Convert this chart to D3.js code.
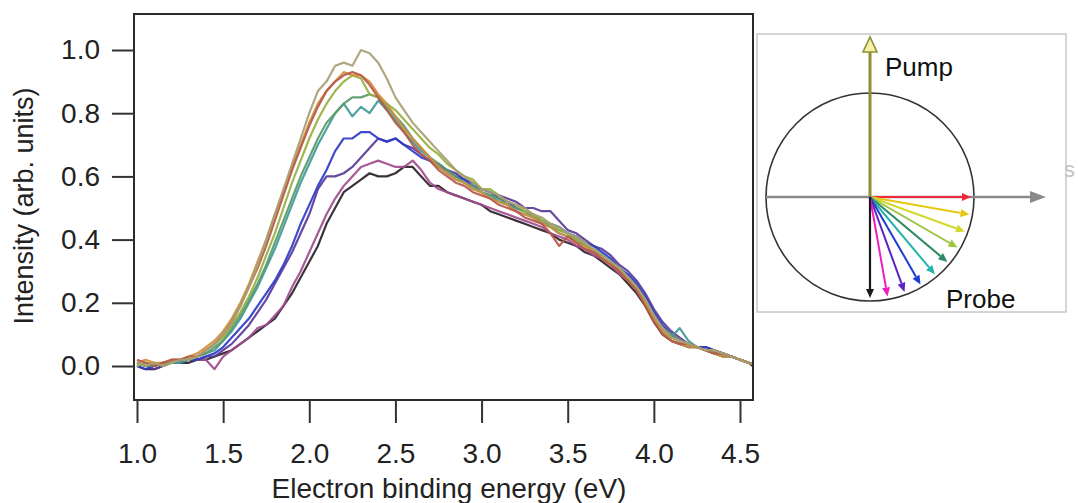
<!DOCTYPE html>
<html>
<head>
<meta charset="utf-8">
<script src="https://cdn.jsdelivr.net/npm/d3@7"></script>
<style>
  html, body { margin: 0; padding: 0; background: #fff; }
  svg { display: block; font-family: "Liberation Sans", Arial, sans-serif; }
</style>
</head>
<body>
<svg id="chart" width="1078" height="503"></svg>
<script>
// ---------------- DATA ----------------
const energies = [1.00,1.05,1.10,1.15,1.20,1.25,1.30,1.35,1.40,1.45,1.50,1.55,1.60,1.65,1.70,1.75,1.80,1.85,1.90,1.95,2.00,2.05,2.10,2.15,2.20,2.25,2.30,2.35,2.40,2.45,2.50,2.55,2.60,2.65,2.70,2.75,2.80,2.85,2.90,2.95,3.00,3.05,3.10,3.15,3.20,3.25,3.30,3.35,3.40,3.45,3.50,3.55,3.60,3.65,3.70,3.75,3.80,3.85,3.90,3.95,4.00,4.05,4.10,4.15,4.20,4.25,4.30,4.35,4.40,4.45,4.50,4.55,4.60];

const intensityKhaki = [
0.01,0.00,0.01,0.00,0.01,0.02,0.02,0.03,0.05,0.07,
0.10,0.14,0.19,0.25,0.32,0.40,0.48,0.56,0.64,0.72,
0.80,0.87,0.90,0.95,0.96,0.95,1.00,0.99,0.96,0.91,
0.85,0.81,0.77,0.74,0.71,0.68,0.65,0.62,0.60,0.58,
0.56,0.55,0.54,0.52,0.51,0.50,0.48,0.47,0.45,0.44,
0.42,0.41,0.39,0.37,0.35,0.33,0.31,0.28,0.25,0.21,
0.16,0.12,0.09,0.08,0.07,0.06,0.05,0.05,0.04,0.03,
0.02,0.01,0.00];
const intensityRed = [
0.02,0.01,0.00,0.01,0.02,0.02,0.03,0.03,0.05,0.07,
0.10,0.14,0.19,0.25,0.31,0.38,0.46,0.54,0.62,0.69,
0.76,0.82,0.87,0.90,0.92,0.93,0.92,0.89,0.85,0.81,
0.77,0.74,0.70,0.67,0.65,0.62,0.60,0.58,0.57,0.55,
0.54,0.53,0.51,0.50,0.49,0.47,0.46,0.45,0.42,0.38,
0.41,0.39,0.37,0.36,0.34,0.32,0.30,0.27,0.24,0.19,
0.14,0.10,0.08,0.07,0.07,0.06,0.05,0.04,0.04,0.03,
0.02,0.01,0.00];
const intensityOrange = [
0.01,0.02,0.01,0.01,0.02,0.02,0.03,0.04,0.06,0.08,
0.11,0.15,0.20,0.26,0.33,0.40,0.48,0.55,0.63,0.70,
0.77,0.83,0.87,0.90,0.93,0.92,0.92,0.90,0.86,0.83,
0.79,0.75,0.72,0.69,0.66,0.63,0.61,0.59,0.58,0.56,
0.55,0.53,0.52,0.51,0.49,0.48,0.47,0.45,0.44,0.42,
0.41,0.39,0.38,0.36,0.34,0.32,0.30,0.27,0.24,0.20,
0.15,0.11,0.08,0.07,0.06,0.06,0.05,0.04,0.03,0.03,
0.02,0.01,0.00];
const intensityYellowGreen = [
0.00,0.01,0.01,0.00,0.01,0.02,0.02,0.03,0.05,0.07,
0.09,0.13,0.17,0.22,0.28,0.35,0.42,0.50,0.58,0.65,
0.72,0.78,0.83,0.87,0.90,0.92,0.91,0.86,0.85,0.83,
0.81,0.78,0.75,0.72,0.69,0.67,0.64,0.62,0.60,0.59,
0.56,0.56,0.54,0.52,0.51,0.49,0.48,0.46,0.45,0.43,
0.42,0.40,0.39,0.37,0.35,0.33,0.31,0.28,0.25,0.21,
0.16,0.12,0.09,0.08,0.07,0.06,0.05,0.05,0.04,0.03,
0.02,0.01,0.00];
const intensityGreen = [
0.01,0.00,0.00,0.01,0.01,0.02,0.02,0.03,0.04,0.06,
0.08,0.12,0.16,0.21,0.26,0.32,0.39,0.46,0.53,0.60,
0.66,0.72,0.77,0.80,0.83,0.85,0.85,0.86,0.85,0.82,
0.79,0.76,0.72,0.69,0.66,0.64,0.62,0.60,0.58,0.57,
0.55,0.54,0.53,0.51,0.50,0.49,0.47,0.46,0.44,0.43,
0.42,0.40,0.38,0.37,0.35,0.33,0.31,0.28,0.25,0.21,
0.16,0.12,0.10,0.08,0.07,0.06,0.05,0.04,0.04,0.03,
0.02,0.01,0.00];
const intensityTeal = [
0.00,0.01,0.00,0.01,0.01,0.01,0.02,0.03,0.04,0.05,
0.08,0.11,0.15,0.20,0.25,0.31,0.37,0.44,0.51,0.58,
0.64,0.70,0.75,0.80,0.83,0.79,0.82,0.80,0.84,0.81,
0.78,0.74,0.71,0.68,0.66,0.63,0.61,0.59,0.58,0.56,
0.55,0.54,0.52,0.51,0.49,0.48,0.47,0.45,0.44,0.42,
0.41,0.40,0.38,0.36,0.35,0.33,0.30,0.28,0.24,0.20,
0.15,0.11,0.09,0.12,0.08,0.06,0.05,0.04,0.04,0.03,
0.02,0.01,0.00];
const intensityBlue = [
0.00,-0.01,0.00,0.01,0.01,0.01,0.02,0.02,0.03,0.04,
0.06,0.09,0.12,0.15,0.19,0.23,0.27,0.32,0.38,0.45,
0.51,0.57,0.62,0.68,0.72,0.72,0.74,0.74,0.72,0.71,
0.72,0.70,0.68,0.66,0.65,0.63,0.62,0.60,0.59,0.57,
0.56,0.55,0.53,0.52,0.50,0.49,0.48,0.46,0.45,0.44,
0.42,0.41,0.39,0.38,0.36,0.34,0.31,0.29,0.26,0.22,
0.17,0.13,0.10,0.08,0.07,0.06,0.06,0.05,0.04,0.03,
0.02,0.01,0.00];
const intensityViolet = [
0.01,0.00,-0.01,0.00,0.01,0.01,0.02,0.02,0.03,0.03,
0.05,0.07,0.10,0.13,0.17,0.21,0.26,0.31,0.36,0.42,
0.48,0.56,0.60,0.60,0.61,0.63,0.66,0.69,0.72,0.71,
0.72,0.70,0.69,0.67,0.65,0.64,0.62,0.61,0.59,0.58,
0.56,0.55,0.54,0.53,0.52,0.50,0.50,0.49,0.49,0.46,
0.43,0.42,0.40,0.38,0.37,0.35,0.32,0.30,0.27,0.23,
0.18,0.14,0.11,0.09,0.07,0.06,0.06,0.05,0.04,0.03,
0.02,0.01,0.00];
const intensityMauve = [
0.01,0.00,0.00,0.01,0.01,0.02,0.02,0.02,0.02,-0.01,
0.03,0.05,0.07,0.09,0.12,0.13,0.16,0.19,0.25,0.30,
0.36,0.42,0.48,0.53,0.57,0.60,0.63,0.64,0.65,0.64,
0.63,0.63,0.65,0.62,0.58,0.56,0.55,0.54,0.53,0.52,
0.51,0.50,0.49,0.48,0.47,0.46,0.45,0.44,0.42,0.41,
0.40,0.38,0.37,0.35,0.34,0.32,0.29,0.27,0.24,0.20,
0.15,0.11,0.08,0.07,0.07,0.06,0.05,0.05,0.04,0.03,
0.02,0.01,0.00];
const intensityBlack = [
0.00,-0.01,-0.01,0.00,0.01,0.01,0.01,0.02,0.02,0.03,
0.04,0.05,0.07,0.09,0.11,0.13,0.15,0.19,0.23,0.28,
0.33,0.38,0.45,0.50,0.55,0.57,0.59,0.61,0.60,0.60,
0.61,0.63,0.63,0.60,0.57,0.57,0.55,0.54,0.53,0.52,
0.51,0.49,0.48,0.47,0.46,0.45,0.44,0.43,0.42,0.40,
0.39,0.38,0.36,0.35,0.33,0.31,0.29,0.26,0.23,0.19,
0.14,0.10,0.08,0.07,0.06,0.06,0.05,0.04,0.03,0.03,
0.02,0.01,-0.01];

const seriesValues = [intensityBlack, intensityMauve, intensityViolet, intensityBlue, intensityTeal,
                      intensityGreen, intensityYellowGreen, intensityOrange, intensityRed, intensityKhaki];
const seriesColors = ["#2a2228", "#a04c8c", "#5b3a9a", "#2c3cc8", "#3f9a9a",
                      "#5a9a6a", "#98b040", "#d0903c", "#b85848", "#a89f74"];

const xTicks = [1.0, 1.5, 2.0, 2.5, 3.0, 3.5, 4.0, 4.5];
const yTicks = [0.0, 0.2, 0.4, 0.6, 0.8, 1.0];
const xTitle = "Electron binding energy (eV)";
const yTitle = "Intensity (arb. units)";

// inset: probe polarisation angles (degrees below horizontal) and colours
const probeAngles = [0, 10, 20, 30, 40, 50, 60, 70, 80, 90];
const probeColors = ["#f0283c", "#e6c814", "#d2d82c", "#9cc43c", "#2e8a62", "#22b4a8", "#1e3cd2", "#5a22c8", "#f01ec0", "#1a1a1a"];
const insetLabels = ["Pump", "Probe"];

// ---------------- LAYOUT ----------------
const svg = d3.select("#chart");
const frame = { left: 134, right: 753, top: 14, bottom: 400 };

const x = d3.scaleLinear().domain([1.0, 4.5]).range([137, 740]);
const y = d3.scaleLinear().domain([0, 1]).range([366, 50]);

// curves (clipped to frame)
svg.append("clipPath").attr("id", "plotclip")
  .append("rect").attr("x", frame.left).attr("y", frame.top)
  .attr("width", frame.right - frame.left).attr("height", frame.bottom - frame.top);

const line = d3.line().x((d, i) => x(energies[i])).y(d => y(d));
const gCurves = svg.append("g").attr("clip-path", "url(#plotclip)");
seriesValues.forEach((vals, k) => {
  gCurves.append("path")
    .attr("d", line(vals))
    .attr("fill", "none")
    .attr("stroke", seriesColors[k])
    .attr("stroke-width", 2.2)
    .attr("stroke-linejoin", "round")
    .attr("opacity", 0.92);
});

// frame
svg.append("rect")
  .attr("x", frame.left).attr("y", frame.top)
  .attr("width", frame.right - frame.left).attr("height", frame.bottom - frame.top)
  .attr("fill", "none").attr("stroke", "#2a2a2a").attr("stroke-width", 2);

// axes
const yAxis = d3.axisLeft(y).tickValues(yTicks).tickFormat(d3.format(".1f"))
  .tickSize(22).tickPadding(12);
const gy = svg.append("g").attr("transform", `translate(${frame.left},0)`).call(yAxis);
gy.select(".domain").remove();

const xAxis = d3.axisBottom(x).tickValues(xTicks).tickFormat(d3.format(".1f"))
  .tickSize(23).tickPadding(20);
const gx = svg.append("g").attr("transform", `translate(0,${frame.bottom})`).call(xAxis);
gx.select(".domain").remove();

[gx, gy].forEach(g => {
  g.selectAll(".tick line").attr("stroke", "#333").attr("stroke-width", 2);
  g.selectAll(".tick text").attr("fill", "#222")
    .style("font-size", "28px").style("font-family", "'Liberation Sans', Arial, sans-serif");
});

// axis titles
svg.append("text")
  .attr("x", 449).attr("y", 498)
  .attr("text-anchor", "middle")
  .style("font-size", "28px").attr("fill", "#222")
  .text(xTitle);
svg.append("text")
  .attr("transform", "translate(33,206) rotate(-90)")
  .attr("text-anchor", "middle")
  .style("font-size", "27px").attr("fill", "#222")
  .text(yTitle);

// ---------------- INSET ----------------
const inset = svg.append("g");
inset.append("rect").attr("x", 757).attr("y", 34).attr("width", 309).attr("height", 278)
  .attr("fill", "#fff").attr("stroke", "#c8c8c8").attr("stroke-width", 1.5);

const cx = 870, cy = 197, R = 104;
// faint clipped text at right edge
inset.append("text").attr("x", 1064).attr("y", 177)
  .style("font-size", "22px").attr("fill", "#c4c4c4").text("s");

inset.append("circle").attr("cx", cx).attr("cy", cy).attr("r", R)
  .attr("fill", "none").attr("stroke", "#333").attr("stroke-width", 1.6);

// horizontal gray axis with arrow
inset.append("line").attr("x1", cx - R).attr("y1", cy).attr("x2", 1032).attr("y2", cy)
  .attr("stroke", "#8a8a8a").attr("stroke-width", 2.5);
inset.append("path")
  .attr("d", `M1046,${cy} L1030,${cy - 6} L1030,${cy + 6} Z`)
  .attr("fill", "#8a8a8a");

// pump arrow (vertical up)
inset.append("line").attr("x1", cx).attr("y1", cy).attr("x2", cx).attr("y2", 50)
  .attr("stroke", "#8e8e34").attr("stroke-width", 3);
inset.append("path")
  .attr("d", `M${cx},37 L${cx - 7},52 L${cx + 7},52 Z`)
  .attr("fill", "#f4f2a6").attr("stroke", "#8e8e34").attr("stroke-width", 1.6);

// probe arrows
const tipR = 101, headLen = 9, headW = 4;
probeAngles.forEach((a, k) => {
  const t = a * Math.PI / 180;
  const ux = Math.cos(t), uy = Math.sin(t);
  const tx = cx + tipR * ux, ty = cy + tipR * uy;
  const bx = tx - headLen * ux, by = ty - headLen * uy;
  const px = -uy, py = ux;
  const col = probeColors[k];
  inset.append("line").attr("x1", cx).attr("y1", cy).attr("x2", bx).attr("y2", by)
    .attr("stroke", col).attr("stroke-width", a === 90 ? 2.2 : 2);
  inset.append("path")
    .attr("d", `M${tx},${ty} L${bx + headW * px},${by + headW * py} L${bx - headW * px},${by - headW * py} Z`)
    .attr("fill", col);
});

inset.append("text").attr("x", 885).attr("y", 76)
  .style("font-size", "26px").attr("fill", "#111").text(insetLabels[0]);
inset.append("text").attr("x", 946).attr("y", 308)
  .style("font-size", "26px").attr("fill", "#111").text(insetLabels[1]);
</script>
</body>
</html>
